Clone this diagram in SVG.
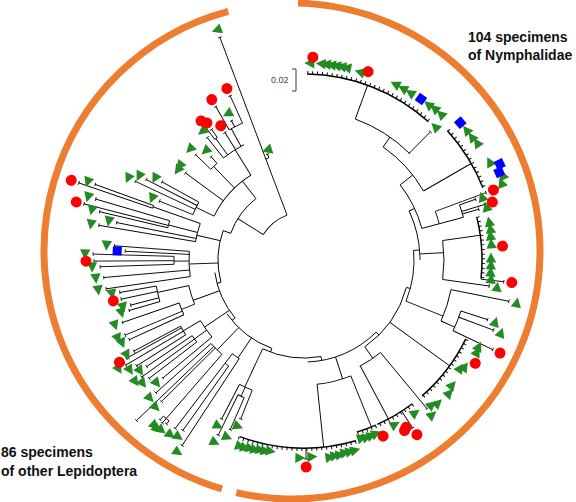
<svg xmlns="http://www.w3.org/2000/svg" width="576" height="502" viewBox="0 0 576 502">
<style>
.lab{font-family:"Liberation Sans",Arial,sans-serif;font-weight:bold;font-size:14px;fill:#111}
.br{fill:none;stroke:#000;stroke-width:0.9}
.tk{fill:none;stroke:#000;stroke-width:3}
.dn{stroke-width:1.5}
.lf{marker-end:url(#b)}
</style>
<defs>
<marker id="b" viewBox="-1 -2 2 4" markerWidth="2" markerHeight="4" refX="0" refY="0" orient="auto" markerUnits="userSpaceOnUse"><path d="M0 -2V2" stroke="#000" stroke-width="0.8"/></marker>
<polygon id="t" points="5.5,0 -4.5,-5.2 -4.5,5.2" fill="#228B22"/>
<circle id="c" r="5.5" fill="#ff0000"/>
<rect id="s" x="-4.5" y="-4.5" width="9" height="9" fill="#0000ff"/>
</defs>
<rect width="576" height="502" fill="#fff"/>

<g id="group-arcs" fill="none" stroke="#ed7d31" stroke-width="7">
<circle cx="292" cy="251" r="248" pathLength="360" stroke-dasharray="191.6 999" transform="rotate(-88.6 292 251)"/>
<circle cx="292" cy="251" r="248" pathLength="360" stroke-dasharray="148.7 999" transform="rotate(106.4 292 251)"/>
</g>

<g id="connectors" class="br" transform="translate(304,260)">
<!-- backbone -->
<circle r="48" pathLength="360" stroke-dasharray="37.3 999" transform="rotate(212)"/>
<path d="M48 0H78" transform="rotate(212)"/>
<circle r="78" pathLength="360" stroke-dasharray="32 999" transform="rotate(200)"/>
<path d="M78 0H86" transform="rotate(200)"/>
<circle r="86" pathLength="360" stroke-dasharray="35 999" transform="rotate(165)"/>
<path d="M86 0H90" transform="rotate(165)"/>
<circle r="90" pathLength="360" stroke-dasharray="32 999" transform="rotate(140)"/>
<path d="M90 0H94" transform="rotate(140)"/>
<circle r="94" pathLength="360" stroke-dasharray="35 999" transform="rotate(110)"/>
<path d="M94 0H98" transform="rotate(110)"/>
<circle r="98" pathLength="360" stroke-dasharray="35 999" transform="rotate(80)"/>
<path d="M98 0H102" transform="rotate(80)"/>
<circle r="102" pathLength="360" stroke-dasharray="43 999" transform="rotate(45)"/>
<path d="M102 0H106" transform="rotate(45)"/>
<circle r="106" pathLength="360" stroke-dasharray="40 999" transform="rotate(15)"/>
<path d="M106 0H110" transform="rotate(15)"/>
<circle r="110" pathLength="360" stroke-dasharray="27 999" transform="rotate(355)"/>
<path d="M110 0H116" transform="rotate(355)"/>
<circle r="116" pathLength="360" stroke-dasharray="25 999" transform="rotate(335)"/>
<path d="M116 0H122" transform="rotate(335)"/>
<circle r="122" pathLength="360" stroke-dasharray="23 999" transform="rotate(322)"/>
<!-- long branch -->
<path class="lf" d="M48 0H238" transform="rotate(249.3)"/>
<circle r="108" pathLength="360" stroke-dasharray="1.7 999" transform="rotate(249.3)"/>
<path class="lf" d="M108 0H112" transform="rotate(251)"/>
<!-- N1 / N2 -->
<path d="M122 0H138" transform="rotate(322)"/>
<circle r="138" pathLength="360" stroke-dasharray="25 999" transform="rotate(305)"/>
<path d="M138 0H150" transform="rotate(305)"/>
<circle r="150" pathLength="360" stroke-dasharray="25 999" transform="rotate(290)"/>
<path d="M150 0H186" transform="rotate(290)"/>
<circle class="dn" r="186" pathLength="360" stroke-dasharray="41 999" transform="rotate(271)"/>
<path class="lf" d="M150 0H180" transform="rotate(314.6)"/>
<path d="M138 0H193" transform="rotate(330)"/>
<circle class="dn" r="193" pathLength="360" stroke-dasharray="20 999" transform="rotate(318)"/>
<!-- N3 -->
<path d="M122 0H140" transform="rotate(345)"/>
<circle r="140" pathLength="360" stroke-dasharray="5.3 999" transform="rotate(339.7)"/>
<path class="lf" d="M140 0H194" transform="rotate(339.7)"/>
<path d="M140 0H165" transform="rotate(345)"/>
<circle r="165" pathLength="360" stroke-dasharray="4.5 999" transform="rotate(340.5)"/>
<path class="lf" d="M165 0H182" transform="rotate(340.5)"/>
<path class="lf" d="M165 0H189" transform="rotate(342.9)"/>
<path class="lf" d="M165 0H182" transform="rotate(343.8)"/>
<!-- N4 -->
<path d="M116 0H140" transform="rotate(357)"/>
<circle r="140" pathLength="360" stroke-dasharray="16 999" transform="rotate(352)"/>
<path d="M140 0H178" transform="rotate(352)"/>
<circle class="dn" r="178" pathLength="360" stroke-dasharray="20 999" transform="rotate(346)"/>
<path class="lf" d="M140 0H187" transform="rotate(8)"/>
<path class="lf" d="M178 0H201" transform="rotate(6.2)"/>
<!-- N5 -->
<path d="M110 0H150" transform="rotate(22)"/>
<circle r="150" pathLength="360" stroke-dasharray="12.6 999" transform="rotate(11.4)"/>
<path class="lf" d="M150 0H209" transform="rotate(11.4)"/>
<path d="M150 0H165" transform="rotate(24)"/>
<circle r="165" pathLength="360" stroke-dasharray="7.4 999" transform="rotate(18)"/>
<path class="lf" d="M165 0H193" transform="rotate(18)"/>
<path class="lf" d="M165 0H202" transform="rotate(20.3)"/>
<path class="lf" d="M165 0H209" transform="rotate(25.4)"/>
<!-- N6 -->
<path d="M106 0H180" transform="rotate(36)"/>
<circle class="dn" r="180" pathLength="360" stroke-dasharray="23 999" transform="rotate(26)"/>
<!-- N7 -->
<path d="M106 0H120" transform="rotate(55)"/>
<circle r="120" pathLength="360" stroke-dasharray="12 999" transform="rotate(50.4)"/>
<path class="lf" d="M120 0H193" transform="rotate(50.4)"/>
<path d="M120 0H180" transform="rotate(62)"/>
<circle class="dn" r="180" pathLength="360" stroke-dasharray="13 999" transform="rotate(53)"/>
<path class="lf" d="M180 0H200" transform="rotate(57.1)"/>
<!-- N8 -->
<path d="M102 0H125" transform="rotate(72)"/>
<circle r="125" pathLength="360" stroke-dasharray="16 999" transform="rotate(68)"/>
<path d="M125 0H180" transform="rotate(68)"/>
<circle class="dn" r="180" pathLength="360" stroke-dasharray="6.5 999" transform="rotate(66.5)"/>
<path d="M125 0H188" transform="rotate(84)"/>
<circle class="dn" r="188" pathLength="360" stroke-dasharray="36 999" transform="rotate(74)"/>
<path class="lf" d="M188 0H199" transform="rotate(89.4)"/>
<!-- OL1 -->
<path d="M98 0H140" transform="rotate(115)"/>
<circle r="140" pathLength="360" stroke-dasharray="5.7 999" transform="rotate(111.7)"/>
<path class="lf" d="M140 0H171" transform="rotate(111.7)"/>
<path class="lf" d="M140 0H179" transform="rotate(117.4)"/>
<path d="M140 0H150" transform="rotate(114.8)"/>
<circle r="150" pathLength="360" stroke-dasharray="2.6 999" transform="rotate(113.5)"/>
<path class="lf" d="M150 0H185" transform="rotate(113.5)"/>
<path class="lf" d="M150 0H195" transform="rotate(116.1)"/>
<!-- OL2 -->
<path d="M94 0H118" transform="rotate(124)"/>
<circle r="118" pathLength="360" stroke-dasharray="4.1 999" transform="rotate(123.3)"/>
<path class="lf" d="M118 0H222" transform="rotate(123.3)"/>
<path d="M118 0H130" transform="rotate(127.4)"/>
<circle r="130" pathLength="360" stroke-dasharray="2 999" transform="rotate(125.4)"/>
<path class="lf" d="M130 0H209" transform="rotate(125.4)"/>
<path class="lf" d="M130 0H212" transform="rotate(127.4)"/>
<!-- OL3 -->
<path d="M94 0H125" transform="rotate(134)"/>
<circle r="125" pathLength="360" stroke-dasharray="7.1 999" transform="rotate(131)"/>
<path d="M125 0H210" transform="rotate(131)"/>
<circle r="210" pathLength="360" stroke-dasharray="2 999" transform="rotate(130)"/>
<path class="lf" d="M210 0H214" transform="rotate(130)"/>
<path class="lf" d="M210 0H216" transform="rotate(131)"/>
<path class="lf" d="M210 0H215" transform="rotate(132)"/>
<path class="lf" d="M125 0H201" transform="rotate(135.2)"/>
<path class="lf" d="M125 0H232" transform="rotate(136.2)"/>
<path class="lf" d="M125 0H199" transform="rotate(138.1)"/>
<!-- OL4 -->
<path d="M90 0H120" transform="rotate(146)"/>
<circle r="120" pathLength="360" stroke-dasharray="9.5 999" transform="rotate(140.1)"/>
<path class="lf" d="M120 0H184" transform="rotate(140.1)"/>
<path d="M120 0H135" transform="rotate(144.2)"/>
<circle r="135" pathLength="360" stroke-dasharray="3.3 999" transform="rotate(142.6)"/>
<path class="lf" d="M135 0H195" transform="rotate(142.6)"/>
<path class="lf" d="M135 0H200" transform="rotate(144.2)"/>
<path class="lf" d="M135 0H190" transform="rotate(145.9)"/>
<path d="M120 0H140" transform="rotate(149.6)"/>
<circle r="140" pathLength="360" stroke-dasharray="4.1 999" transform="rotate(147.7)"/>
<path class="lf" d="M140 0H198" transform="rotate(147.7)"/>
<path class="lf" d="M140 0H207" transform="rotate(149.5)"/>
<path class="lf" d="M140 0H203" transform="rotate(151)"/>
<path class="lf" d="M140 0H193" transform="rotate(151.8)"/>
<!-- OL5 -->
<path d="M90 0H118" transform="rotate(160)"/>
<circle r="118" pathLength="360" stroke-dasharray="9.5 999" transform="rotate(158)"/>
<path d="M118 0H132" transform="rotate(158)"/>
<circle r="132" pathLength="360" stroke-dasharray="5.5 999" transform="rotate(155.5)"/>
<path class="lf" d="M132 0H192" transform="rotate(155.5)"/>
<path class="lf" d="M132 0H194" transform="rotate(157.2)"/>
<path class="lf" d="M132 0H192" transform="rotate(161)"/>
<path d="M118 0H150" transform="rotate(167.5)"/>
<circle r="150" pathLength="360" stroke-dasharray="6.1 999" transform="rotate(163.9)"/>
<path class="lf" d="M150 0H182" transform="rotate(163.9)"/>
<path class="lf" d="M150 0H179" transform="rotate(165.4)"/>
<path class="lf" d="M150 0H187" transform="rotate(167.9)"/>
<path class="lf" d="M150 0H187" transform="rotate(170)"/>
<!-- OL6 -->
<path d="M86 0H115" transform="rotate(178)"/>
<circle r="115" pathLength="360" stroke-dasharray="12.6 999" transform="rotate(171.7)"/>
<path class="lf" d="M115 0H200" transform="rotate(171.7)"/>
<path class="lf" d="M115 0H201" transform="rotate(175)"/>
<path d="M115 0H130" transform="rotate(179.5)"/>
<circle r="130" pathLength="360" stroke-dasharray="3.5 999" transform="rotate(178.1)"/>
<path class="lf" d="M130 0H204" transform="rotate(178.1)"/>
<path class="lf" d="M130 0H210" transform="rotate(179.7)"/>
<path class="lf" d="M130 0H211" transform="rotate(181.6)"/>
<path class="lf" d="M115 0H179" transform="rotate(182.8)"/>
<path class="lf" d="M115 0H190" transform="rotate(184.3)"/>
<!-- OL7 -->
<path d="M86 0H110" transform="rotate(193)"/>
<circle r="110" pathLength="360" stroke-dasharray="9.8 999" transform="rotate(189.6)"/>
<path class="lf" d="M110 0H208" transform="rotate(189.6)"/>
<path class="lf" d="M110 0H191" transform="rotate(191.3)"/>
<path d="M110 0H140" transform="rotate(194.5)"/>
<circle r="140" pathLength="360" stroke-dasharray="3 999" transform="rotate(193.3)"/>
<path class="lf" d="M140 0H210" transform="rotate(193.3)"/>
<path class="lf" d="M140 0H227" transform="rotate(194.3)"/>
<path class="lf" d="M140 0H217" transform="rotate(196.3)"/>
<path d="M110 0H160" transform="rotate(199.4)"/>
<circle r="160" pathLength="360" stroke-dasharray="1 999" transform="rotate(198.9)"/>
<path class="lf" d="M160 0H238" transform="rotate(198.9)"/>
<path class="lf" d="M160 0H222" transform="rotate(199.9)"/>
<!-- UL -->
<path d="M78 0H100" transform="rotate(232)"/>
<circle r="100" pathLength="360" stroke-dasharray="32 999" transform="rotate(206)"/>
<path d="M100 0H120" transform="rotate(206)"/>
<circle r="120" pathLength="360" stroke-dasharray="6.6 999" transform="rotate(202.2)"/>
<path class="lf" d="M120 0H156" transform="rotate(202.2)"/>
<path class="lf" d="M120 0H186" transform="rotate(205)"/>
<path class="lf" d="M120 0H177" transform="rotate(207)"/>
<path class="lf" d="M120 0H162" transform="rotate(208.8)"/>
<path class="lf" d="M100 0H147" transform="rotate(216.3)"/>
<path d="M100 0H130" transform="rotate(226)"/>
<circle r="130" pathLength="360" stroke-dasharray="3.8 999" transform="rotate(224.2)"/>
<path class="lf" d="M130 0H151" transform="rotate(224.2)"/>
<path class="lf" d="M130 0H139" transform="rotate(228)"/>
<path d="M100 0H130" transform="rotate(238)"/>
<circle r="130" pathLength="360" stroke-dasharray="10.8 999" transform="rotate(231.7)"/>
<path class="lf" d="M130 0H156" transform="rotate(231.7)"/>
<path d="M130 0H150" transform="rotate(234)"/>
<circle r="150" pathLength="360" stroke-dasharray="1.2 999" transform="rotate(233.5)"/>
<path class="lf" d="M150 0H165" transform="rotate(233.5)"/>
<path class="lf" d="M150 0H160" transform="rotate(234.7)"/>
<path class="lf" d="M130 0H150" transform="rotate(238.2)"/>
<path d="M130 0H150" transform="rotate(241)"/>
<circle r="150" pathLength="360" stroke-dasharray="5.7 999" transform="rotate(240.1)"/>
<path class="lf" d="M150 0H177" transform="rotate(240.1)"/>
<path class="lf" d="M150 0H157" transform="rotate(242.5)"/>
<path class="lf" d="M150 0H180" transform="rotate(245.8)"/>
</g>

<g id="dense-leaves" class="tk" transform="translate(304,260)">
<circle r="187.5" pathLength="360" transform="rotate(271)" stroke-dasharray="0.3 1.2 0.3 1.2 0.3 1.2 0.3 1.2 0.3 1.2 0.3 1.2 0.3 1.2 0.3 1.2 0.3 1.2 0.3 1.2 0.3 1.2 0.3 1.2 0.3 1.2 0.3 1.2 0.3 1.2 0.3 1.2 0.3 1.2 0.3 1.2 0.3 1.2 0.3 1.2 0.3 1.2 0.3 1.2 0.3 1.2 0.3 1.2 0.3 1.2 0.3 1.2 0.3 1.2 0.3 999"/>
<circle r="194.5" pathLength="360" transform="rotate(318)" stroke-dasharray="0.3 1.2 0.3 1.2 0.3 1.2 0.3 1.2 0.3 1.2 0.3 1.2 0.3 1.2 0.3 1.2 0.3 1.2 0.3 1.2 0.3 1.2 0.3 1.2 0.3 1.2 0.3 999"/>
<circle r="179.5" pathLength="360" transform="rotate(346)" stroke-dasharray="0.3 1.2 0.3 1.2 0.3 1.2 0.3 1.2 0.3 1.2 0.3 1.2 0.3 1.2 0.3 1.2 0.3 1.2 0.3 1.2 0.3 1.2 0.3 1.2 0.3 1.2 0.3 999"/>
<circle r="181.5" pathLength="360" transform="rotate(26)" stroke-dasharray="0.3 1.2 0.3 1.2 0.3 1.2 0.3 1.2 0.3 1.2 0.3 1.2 0.3 1.2 0.3 1.2 0.3 1.2 0.3 1.2 0.3 1.2 0.3 1.2 0.3 1.2 0.3 1.2 0.3 1.2 0.3 999"/>
<circle r="181.5" pathLength="360" transform="rotate(53)" stroke-dasharray="0.3 1.2 0.3 1.2 0.3 1.2 0.3 1.2 0.3 1.2 0.3 1.2 0.3 1.2 0.3 1.2 0.3 999"/>
<circle r="181.5" pathLength="360" transform="rotate(66.5)" stroke-dasharray="0.3 1.2 0.3 1.2 0.3 1.2 0.3 1.2 0.3 999"/>
<circle r="189.5" pathLength="360" transform="rotate(74)" stroke-dasharray="0.3 1.2 0.3 1.2 0.3 1.2 0.3 1.2 0.3 1.2 0.3 1.2 0.3 1.2 0.3 1.2 0.3 1.2 0.3 1.2 0.3 1.2 0.3 1.2 0.3 1.2 0.3 1.2 0.3 1.2 0.3 1.2 0.3 1.2 0.3 1.2 0.3 1.2 0.3 1.2 0.3 1.2 0.3 1.2 0.3 1.2 0.3 1.2 0.3 999"/>
</g>

<g id="triangles" transform="translate(304,260)">
<use href="#t" transform="rotate(271.7) translate(197) rotate(-90)"/>
<use href="#t" transform="rotate(275) translate(197) rotate(-90)"/>
<use href="#t" transform="rotate(276.5) translate(197) rotate(-90)"/>
<use href="#t" transform="rotate(278) translate(197) rotate(-90)"/>
<use href="#t" transform="rotate(279.5) translate(197) rotate(-90)"/>
<use href="#t" transform="rotate(281) translate(197) rotate(-90)"/>
<use href="#t" transform="rotate(282.5) translate(197) rotate(-90)"/>
<use href="#t" transform="rotate(286.6) translate(196) rotate(-90)"/>
<use href="#t" transform="rotate(297.5) translate(198) rotate(-90)"/>
<use href="#t" transform="rotate(300) translate(198) rotate(-90)"/>
<use href="#t" transform="rotate(302.5) translate(198) rotate(-90)"/>
<use href="#t" transform="rotate(308.7) translate(199) rotate(-90)"/>
<use href="#t" transform="rotate(310.8) translate(200) rotate(-90)"/>
<use href="#t" transform="rotate(313.2) translate(200) rotate(-90)"/>
<use href="#t" transform="rotate(314.6) translate(187) rotate(-90)"/>
<use href="#t" transform="rotate(321.4) translate(208) rotate(-90)"/>
<use href="#t" transform="rotate(323.8) translate(208) rotate(-90)"/>
<use href="#t" transform="rotate(325.9) translate(209) rotate(-90)"/>
<use href="#t" transform="rotate(332.2) translate(210) rotate(-90)"/>
<use href="#t" transform="rotate(336.9) translate(216) rotate(-90)"/>
<use href="#t" transform="rotate(338.7) translate(212) rotate(-90)"/>
<use href="#t" transform="rotate(340.5) translate(189) rotate(-90)"/>
<use href="#t" transform="rotate(343.8) translate(190) rotate(-90)"/>
<use href="#t" transform="rotate(348.4) translate(189) rotate(-90)"/>
<use href="#t" transform="rotate(350.5) translate(189) rotate(-90)"/>
<use href="#t" transform="rotate(352.6) translate(188) rotate(-90)"/>
<use href="#t" transform="rotate(355.1) translate(188) rotate(-90)"/>
<use href="#t" transform="rotate(359.4) translate(187) rotate(-90)"/>
<use href="#t" transform="rotate(1.5) translate(187) rotate(-90)"/>
<use href="#t" transform="rotate(3.7) translate(187) rotate(-90)"/>
<use href="#t" transform="rotate(5.8) translate(188) rotate(-90)"/>
<use href="#t" transform="rotate(8) translate(195) rotate(-90)"/>
<use href="#t" transform="rotate(11.4) translate(217) rotate(-90)"/>
<use href="#t" transform="rotate(18) translate(201) rotate(-90)"/>
<use href="#t" transform="rotate(20.3) translate(210) rotate(-90)"/>
<use href="#t" transform="rotate(26.4) translate(195) rotate(-90)"/>
<use href="#t" transform="rotate(28) translate(196) rotate(-90)"/>
<use href="#t" transform="rotate(33.6) translate(193) rotate(-90)"/>
<use href="#t" transform="rotate(34.7) translate(190) rotate(-90)"/>
<use href="#t" transform="rotate(40.2) translate(194) rotate(-90)"/>
<use href="#t" transform="rotate(42.5) translate(197) rotate(-90)"/>
<use href="#t" transform="rotate(46.9) translate(196) rotate(-90)"/>
<use href="#t" transform="rotate(48.6) translate(193) rotate(-90)"/>
<use href="#t" transform="rotate(50.4) translate(201) rotate(-90)"/>
<use href="#t" transform="rotate(54) translate(189) rotate(-90)"/>
<use href="#t" transform="rotate(61.1) translate(188) rotate(-90)"/>
<use href="#t" transform="rotate(67.5) translate(188) rotate(-90)"/>
<use href="#t" transform="rotate(69) translate(188) rotate(-90)"/>
<use href="#t" transform="rotate(70.5) translate(188) rotate(-90)"/>
<use href="#t" transform="rotate(72) translate(187) rotate(-90)"/>
<use href="#t" transform="rotate(75) translate(197) rotate(-90)"/>
<use href="#t" transform="rotate(76.5) translate(197) rotate(-90)"/>
<use href="#t" transform="rotate(78) translate(197) rotate(-90)"/>
<use href="#t" transform="rotate(79.5) translate(198) rotate(-90)"/>
<use href="#t" transform="rotate(81) translate(198) rotate(-90)"/>
<use href="#t" transform="rotate(82.5) translate(199) rotate(-90)"/>
<use href="#t" transform="rotate(87.7) translate(197) rotate(-90)"/>
<use href="#t" transform="rotate(91.2) translate(198) rotate(-90)"/>
<use href="#t" transform="rotate(100) translate(194) rotate(-90)"/>
<use href="#t" transform="rotate(101.5) translate(195) rotate(-90)"/>
<use href="#t" transform="rotate(103) translate(195) rotate(-90)"/>
<use href="#t" transform="rotate(104.5) translate(196) rotate(-90)"/>
<use href="#t" transform="rotate(106) translate(196) rotate(-90)"/>
<use href="#t" transform="rotate(107.5) translate(197) rotate(-90)"/>
<use href="#t" transform="rotate(109) translate(197) rotate(-90)"/>
<use href="#t" transform="rotate(111.7) translate(179) rotate(-90)"/>
<use href="#t" transform="rotate(113.5) translate(193) rotate(-90)"/>
<use href="#t" transform="rotate(116.1) translate(203) rotate(-90)"/>
<use href="#t" transform="rotate(117.4) translate(187) rotate(-90)"/>
<use href="#t" transform="rotate(123.3) translate(230) rotate(-90)"/>
<use href="#t" transform="rotate(125.4) translate(217) rotate(-90)"/>
<use href="#t" transform="rotate(127.4) translate(220) rotate(-90)"/>
<use href="#t" transform="rotate(130) translate(222) rotate(-90)"/>
<use href="#t" transform="rotate(131) translate(224) rotate(-90)"/>
<use href="#t" transform="rotate(132) translate(223) rotate(-90)"/>
<use href="#t" transform="rotate(135.2) translate(209) rotate(-90)"/>
<use href="#t" transform="rotate(138.1) translate(207) rotate(-90)"/>
<use href="#t" transform="rotate(140.1) translate(192) rotate(-90)"/>
<use href="#t" transform="rotate(142.6) translate(203) rotate(-90)"/>
<use href="#t" transform="rotate(144.2) translate(208) rotate(-90)"/>
<use href="#t" transform="rotate(145.9) translate(198) rotate(-90)"/>
<use href="#t" transform="rotate(147.7) translate(206) rotate(-90)"/>
<use href="#t" transform="rotate(149.5) translate(215) rotate(-90)"/>
<use href="#t" transform="rotate(151.8) translate(201) rotate(-90)"/>
<use href="#t" transform="rotate(155.5) translate(200) rotate(-90)"/>
<use href="#t" transform="rotate(157.2) translate(202) rotate(-90)"/>
<use href="#t" transform="rotate(161) translate(200) rotate(-90)"/>
<use href="#t" transform="rotate(163.9) translate(190) rotate(-90)"/>
<use href="#t" transform="rotate(165.4) translate(187) rotate(-90)"/>
<use href="#t" transform="rotate(170) translate(195) rotate(-90)"/>
<use href="#t" transform="rotate(171.7) translate(208) rotate(-90)"/>
<use href="#t" transform="rotate(175) translate(209) rotate(-90)"/>
<use href="#t" transform="rotate(178.1) translate(212) rotate(-90)"/>
<use href="#t" transform="rotate(181.6) translate(219) rotate(-90)"/>
<use href="#t" transform="rotate(184.3) translate(198) rotate(-90)"/>
<use href="#t" transform="rotate(189.6) translate(216) rotate(-90)"/>
<use href="#t" transform="rotate(191.3) translate(199) rotate(-90)"/>
<use href="#t" transform="rotate(193.3) translate(218) rotate(-90)"/>
<use href="#t" transform="rotate(196.3) translate(225) rotate(-90)"/>
<use href="#t" transform="rotate(199.9) translate(230) rotate(-90)"/>
<use href="#t" transform="rotate(202.2) translate(164) rotate(-90)"/>
<use href="#t" transform="rotate(205) translate(194) rotate(-90)"/>
<use href="#t" transform="rotate(207) translate(185) rotate(-90)"/>
<use href="#t" transform="rotate(208.8) translate(170) rotate(-90)"/>
<use href="#t" transform="rotate(215.5) translate(155) rotate(-90)"/>
<use href="#t" transform="rotate(217.2) translate(156) rotate(-90)"/>
<use href="#t" transform="rotate(224.2) translate(159) rotate(-90)"/>
<use href="#t" transform="rotate(228) translate(147) rotate(-90)"/>
<use href="#t" transform="rotate(231.7) translate(164) rotate(-90)"/>
<use href="#t" transform="rotate(242.5) translate(165) rotate(-90)"/>
<use href="#t" transform="rotate(251.6) translate(116) rotate(-90)"/>
<use href="#t" transform="rotate(249.3) translate(246) rotate(-90)"/>
</g>

<g id="circles" transform="translate(304,260)">
<use href="#c" transform="rotate(272.5) translate(203)"/>
<use href="#c" transform="rotate(288.8) translate(199)"/>
<use href="#c" transform="rotate(339.7) translate(202)"/>
<use href="#c" transform="rotate(342.9) translate(197)"/>
<use href="#c" transform="rotate(356) translate(199)"/>
<use href="#c" transform="rotate(6.2) translate(209)"/>
<use href="#c" transform="rotate(25.4) translate(217)"/>
<use href="#c" transform="rotate(31.1) translate(200)"/>
<use href="#c" transform="rotate(58.6) translate(196)"/>
<use href="#c" transform="rotate(59.5) translate(198)"/>
<use href="#c" transform="rotate(57.1) translate(208)"/>
<use href="#c" transform="rotate(65.8) translate(193)"/>
<use href="#c" transform="rotate(89.4) translate(207)"/>
<use href="#c" transform="rotate(151) translate(211)"/>
<use href="#c" transform="rotate(167.9) translate(195)"/>
<use href="#c" transform="rotate(179.7) translate(218)"/>
<use href="#c" transform="rotate(194.3) translate(235)"/>
<use href="#c" transform="rotate(198.9) translate(246)"/>
<use href="#c" transform="rotate(233.5) translate(173)"/>
<use href="#c" transform="rotate(234.7) translate(168)"/>
<use href="#c" transform="rotate(238.2) translate(158)"/>
<use href="#c" transform="rotate(240.1) translate(185)"/>
<use href="#c" transform="rotate(245.8) translate(188)"/>
</g>

<g id="squares" transform="translate(304,260)">
<use href="#s" transform="rotate(306) translate(199)"/>
<use href="#s" transform="rotate(318.7) translate(208)"/>
<use href="#s" transform="rotate(333.9) translate(218)"/>
<use href="#s" transform="rotate(335.8) translate(214)"/>
<use href="#s" transform="rotate(182.8) translate(187)"/>
</g>

<g id="scale-bar">
<path d="M292 69H296V91H292" fill="none" stroke="#333" stroke-width="1"/>
<text x="271" y="83" font-family="Liberation Sans, Arial, sans-serif" font-size="9" fill="#444">0.02</text>
</g>

<g id="label-nymphalidae">
<text class="lab" x="468" y="42">104 specimens</text>
<text class="lab" x="468" y="60">of Nymphalidae</text>
</g>
<g id="label-other">
<text class="lab" x="1" y="457">86 specimens</text>
<text class="lab" x="1" y="476">of other Lepidoptera</text>
</g>
</svg>
